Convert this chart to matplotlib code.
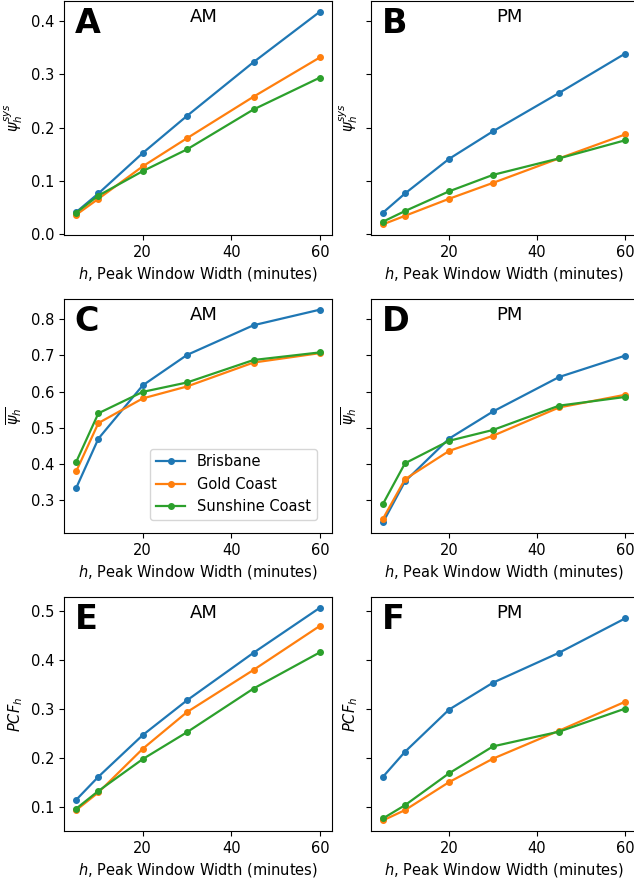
import matplotlib
matplotlib.use("Agg")
import matplotlib.pyplot as plt

# peak window widths (minutes)
h = [5, 10, 20, 30, 45, 60]
cities = ["Brisbane", "Gold Coast", "Sunshine Coast"]

# psi_h^sys
sys_am = {
    "Brisbane": [0.041, 0.076, 0.152, 0.222, 0.323, 0.418],
    "Gold Coast": [0.036, 0.066, 0.127, 0.180, 0.258, 0.332],
    "Sunshine Coast": [0.040, 0.072, 0.118, 0.159, 0.234, 0.294],
}
sys_pm = {
    "Brisbane": [0.040, 0.076, 0.141, 0.193, 0.265, 0.339],
    "Gold Coast": [0.018, 0.034, 0.066, 0.096, 0.142, 0.187],
    "Sunshine Coast": [0.023, 0.043, 0.080, 0.111, 0.142, 0.176],
}

# mean psi_h
mean_am = {
    "Brisbane": [0.334, 0.470, 0.617, 0.701, 0.783, 0.826],
    "Gold Coast": [0.380, 0.513, 0.581, 0.614, 0.680, 0.706],
    "Sunshine Coast": [0.406, 0.540, 0.599, 0.625, 0.687, 0.708],
}
mean_pm = {
    "Brisbane": [0.239, 0.352, 0.470, 0.545, 0.640, 0.699],
    "Gold Coast": [0.249, 0.358, 0.436, 0.478, 0.556, 0.591],
    "Sunshine Coast": [0.290, 0.402, 0.464, 0.494, 0.561, 0.585],
}

# PCF_h
pcf_am = {
    "Brisbane": [0.114, 0.161, 0.246, 0.317, 0.414, 0.506],
    "Gold Coast": [0.093, 0.129, 0.218, 0.293, 0.379, 0.469],
    "Sunshine Coast": [0.096, 0.132, 0.197, 0.252, 0.341, 0.415],
}
pcf_pm = {
    "Brisbane": [0.161, 0.212, 0.298, 0.353, 0.414, 0.484],
    "Gold Coast": [0.072, 0.093, 0.150, 0.198, 0.255, 0.314],
    "Sunshine Coast": [0.076, 0.103, 0.168, 0.223, 0.253, 0.300],
}

rows = [
    (sys_am, sys_pm, r"$\psi_h^{sys}$", "A", "B"),
    (mean_am, mean_pm, r"$\overline{\psi_h}$", "C", "D"),
    (pcf_am, pcf_pm, r"$PCF_h$", "E", "F"),
]
row_bottoms = [0.7336, 0.3957, 0.0578]
colors = ["#1f77b4", "#ff7f0e", "#2ca02c"]

fig = plt.figure(figsize=(6.34, 8.82), dpi=100)

axes = []
for (am, pm, ylab, la, lb), bot in zip(rows, row_bottoms):
    ax1 = fig.add_axes([0.101, bot, 0.423, 0.2653])
    ax2 = fig.add_axes([0.585, bot, 0.42, 0.2653], sharey=ax1)
    for ax, data, letter, period in [(ax1, am, la, "AM"), (ax2, pm, lb, "PM")]:
        for c, col in zip(cities, colors):
            ax.plot(h, data[c], "o-", color=col, markersize=4, linewidth=1.6, label=c)
        ax.set_xlabel(r"$h$, Peak Window Width (minutes)", fontsize=10.5)
        ax.set_ylabel(ylab, fontsize=10.5)
        ax.set_xticks([20, 40, 60])
        ax.tick_params(labelsize=10.5)
        ax.text(0.04, 0.865, letter, transform=ax.transAxes, fontsize=24,
                fontweight="bold", va="baseline", ha="left")
        ax.text(0.52, 0.91, period, transform=ax.transAxes, fontsize=13,
                va="baseline", ha="center")
    ax2.tick_params(labelleft=False)
    axes.append((ax1, ax2))

axes[1][0].legend(loc="lower right", fontsize=10.5, bbox_to_anchor=(0.97, 0.025))

fig.savefig("out.png", dpi=100)
